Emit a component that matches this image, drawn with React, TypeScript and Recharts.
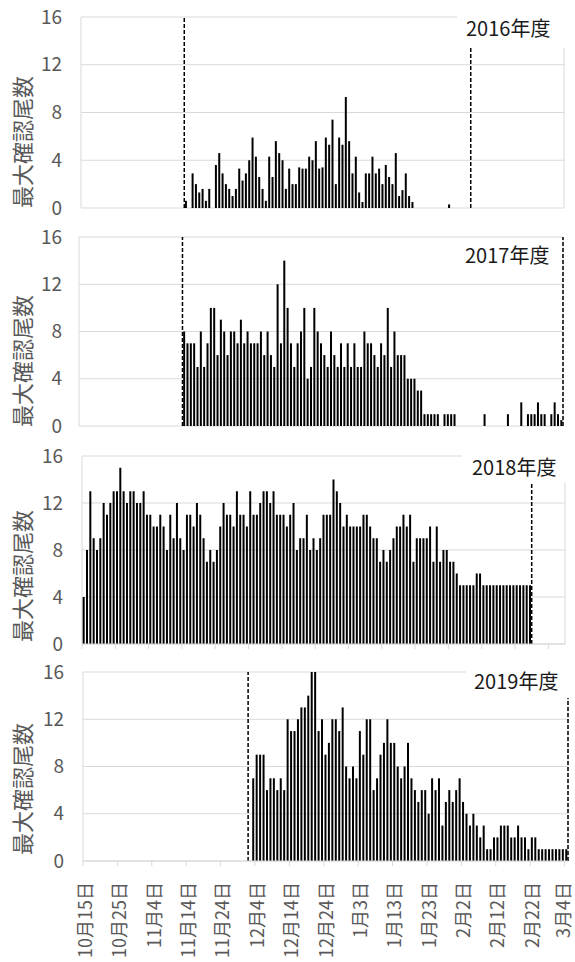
import React from "react";
import { BarChart, Bar, XAxis, YAxis, CartesianGrid, ReferenceLine } from "recharts";

const FONT = '"Noto Sans CJK JP", "Noto Sans", sans-serif';
const GRID = "#d9d9d9";
const AXIS_TEXT = "#595959";
const W = 575;

// x axis: one category per day, counted from 10月15日
const tickLabels = [
  "10月15日", "10月25日", "11月4日", "11月14日", "11月24日", "12月4日", "12月14日",
  "12月24日", "1月3日", "1月13日", "1月23日", "2月2日", "2月12日", "2月22日", "3月4日",
];
const yTicks = [0, 4, 8, 12, 16];

// daily maximum counts, each list starts at its season's first survey day
const start2016 = 31;
const counts2016 = [
  0.6, 0, 2.9, 2.0, 1.3, 1.6, 0.6, 1.6, 0, 3.6,
  4.6, 2.9, 2.0, 1.6, 1.0, 1.6, 3.3, 2.3, 2.9, 4.0,
  5.9, 4.3, 2.6, 1.6, 0.6, 4.3, 2.6, 5.6, 4.6, 4.0,
  1.6, 3.3, 2.0, 2.0, 3.4, 3.3, 3.3, 4.3, 4.0, 5.6,
  3.3, 3.4, 5.9, 5.3, 7.4, 2.0, 5.9, 5.3, 9.3, 5.6,
  2.9, 4.3, 1.3, 0.5, 2.9, 2.9, 4.3, 2.9, 3.3, 2.0,
  3.6, 2.6, 2.0, 4.6, 1.0, 1.5, 2.9, 1.0, 0.5, 0,
  0, 0, 0, 0, 0, 0, 0, 0, 0, 0.3,
];

const start2017 = 31;
const counts2017 = [
  8, 7, 7, 7, 5, 8, 5, 7, 10, 10,
  6, 9, 8, 6, 8, 8, 7, 9, 7, 8,
  7, 7, 7, 8, 6, 8, 6, 5, 12, 7,
  14, 10, 7, 5, 7, 8, 10, 4, 5, 10,
  8, 7, 6, 5, 8, 6, 5, 7, 5, 7,
  5, 7, 5, 5, 8, 7, 7, 6, 5, 7,
  6, 10, 5, 8, 6, 6, 6, 4, 4, 4,
  3, 3, 1, 1, 1, 1, 1, 0, 1, 1,
  1, 1, 0, 0, 0, 0, 0, 0, 0, 0,
  1, 0, 0, 0, 0, 0, 0, 1, 0, 0,
  0, 2, 0, 1, 1, 1, 2, 1, 1, 0,
  1, 2, 1, 0.5,
];

const start2018 = 0;
const counts2018 = [
  4, 8, 13, 9, 8, 9, 12, 11, 12, 13,
  13, 15, 13, 12, 13, 13, 12, 12, 13, 11,
  11, 10, 10, 11, 10, 8, 11, 9, 12, 9,
  8, 11, 11, 10, 12, 11, 9, 7, 8, 7,
  8, 10, 12, 11, 11, 10, 13, 11, 11, 10,
  13, 11, 11, 12, 13, 13, 12, 13, 11, 11,
  11, 10, 11, 12, 8, 9, 9, 11, 8, 9,
  8, 9, 11, 11, 11, 14, 13, 12, 10, 11,
  10, 10, 10, 10, 11, 11, 10, 9, 9, 7,
  8, 7, 8, 9, 10, 10, 11, 10, 11, 7,
  9, 9, 9, 9, 10, 7, 10, 7, 8, 8,
  7, 7, 6, 5, 5, 5, 5, 5, 6, 6,
  5, 5, 5, 5, 5, 5, 5, 5, 5, 5,
  5, 5, 5, 5, 5,
];

const start2019 = 49;
const counts2019 = [
  7, 9, 9, 9, 6, 7, 7, 6, 7, 6,
  12, 11, 11, 12, 13, 13, 14, 16, 16, 11,
  12, 9, 10, 12, 12, 11, 13, 8, 7, 8,
  7, 11, 9, 12, 12, 6, 7, 9, 10, 12,
  10, 10, 8, 7, 8, 10, 7, 6, 5, 6,
  6, 4, 7, 6, 7, 3, 5, 6, 5, 6,
  7, 5, 4, 3, 4, 3, 2, 3, 1, 1,
  2, 2, 3, 3, 3, 2, 2, 3, 2, 2,
  1, 2, 2, 1, 1, 1, 1, 1, 1, 1,
  1, 1,
];

// survey period: first day and the day the period closes on
const period2016 = [31, 117];
const period2017 = [31, 144];
const period2018 = [0, 135];
const period2019 = [48, 140];

function buildRows(days: number, start: number, counts: number[]) {
  return Array.from({ length: days }, (_, day) => ({ day, v: counts[day - start] ?? 0 }));
}

function DayTick(props: any) {
  const { x, y, payload, half, showLabel } = props;
  const edge = x - half;
  // keep the last label inside the page
  const lx = Math.min(x - 1, W - 13);
  const ly = y + 21;
  return (
    <g>
      <line x1={edge} x2={edge} y1={y} y2={y + 5} stroke={GRID} />
      {showLabel && (
        <text
          x={lx}
          y={ly}
          transform={`rotate(-90 ${lx} ${ly})`}
          textAnchor="end"
          dominantBaseline="central"
          fontSize={18}
          fontFamily={FONT}
          fill={AXIS_TEXT}
        >
          {tickLabels[payload.value / 10]}
        </text>
      )}
    </g>
  );
}

type PanelProps = {
  top: number;
  height: number;
  days: number;
  start: number;
  counts: number[];
  period: number[];
  endPos: "start" | "end";
  yAxisWidth: number;
  tickMargin: number;
  marginTop: number;
  marginRight: number;
  marginBottom: number;
  xAxisHeight: number;
  showLabels: boolean;
};

function Panel(p: PanelProps) {
  const rows = buildRows(p.days, p.start, p.counts);
  const plotRight = W - p.marginRight;
  const half = (plotRight - p.yAxisWidth) / p.days / 2;
  return (
    <div style={{ position: "absolute", left: 0, top: p.top }}>
      <BarChart
        width={W}
        height={p.height}
        data={rows}
        margin={{ top: p.marginTop, right: p.marginRight, bottom: p.marginBottom, left: 0 }}
        barCategoryGap="20%"
      >
        <CartesianGrid stroke={GRID} verticalPoints={[p.yAxisWidth, plotRight]} />
        <XAxis
          dataKey="day"
          type="category"
          hide={p.xAxisHeight === 0}
          height={p.xAxisHeight}
          interval={9}
          tickLine={false}
          tickSize={0}
          tickMargin={0}
          axisLine={{ stroke: GRID }}
          tick={<DayTick half={half} showLabel={p.showLabels} />}
        />
        <YAxis
          type="number"
          domain={[0, 16]}
          ticks={yTicks}
          interval={0}
          width={p.yAxisWidth}
          axisLine={false}
          tickLine={false}
          tickSize={0}
          tickMargin={p.tickMargin}
          tick={{ fill: AXIS_TEXT, fontSize: 19, fontFamily: FONT }}
        />
        <Bar dataKey="v" fill="#000" isAnimationActive={false} />
        <ReferenceLine x={p.period[0]} position="start" stroke="#000" strokeWidth={1.5} strokeDasharray="4 2" />
        <ReferenceLine x={p.period[1]} position={p.endPos} stroke="#000" strokeWidth={1.5} strokeDasharray="4 2" />
      </BarChart>
    </div>
  );
}

function YTitle({ cy }: { cy: number }) {
  return (
    <div
      style={{
        position: "absolute",
        left: 21,
        top: cy,
        transform: "translate(-50%, -50%) rotate(-90deg)",
        fontSize: 22,
        lineHeight: "24px",
        color: AXIS_TEXT,
        whiteSpace: "nowrap",
      }}
    >
      最大確認尾数
    </div>
  );
}

function SeasonTitle({ text, left, top, width, height, textLeft }: any) {
  return (
    <div style={{ position: "absolute", left, top, width, height, background: "#fff" }}>
      <div
        style={{
          position: "absolute",
          left: textLeft - left,
          top: 0,
          height,
          lineHeight: `${height}px`,
          fontSize: 20,
          color: "#1a1a1a",
          whiteSpace: "nowrap",
        }}
      >
        {text}
      </div>
    </div>
  );
}

export default function App() {
  return (
    <div
      style={{
        position: "absolute",
        left: 0,
        top: 0,
        width: W,
        height: 962,
        background: "#fff",
        fontFamily: FONT,
        overflow: "hidden",
      }}
    >
      <Panel top={0} height={225} days={145} start={start2016} counts={counts2016} period={period2016} endPos="start"
        yAxisWidth={81} tickMargin={19} marginTop={17} marginRight={11} marginBottom={17} xAxisHeight={0} showLabels={false} />
      <Panel top={220} height={222} days={145} start={start2017} counts={counts2017} period={period2017} endPos="end"
        yAxisWidth={79} tickMargin={17} marginTop={17} marginRight={12} marginBottom={16} xAxisHeight={0} showLabels={false} />
      <Panel top={440} height={222} days={145} start={start2018} counts={counts2018} period={period2018} endPos="start"
        yAxisWidth={82} tickMargin={19} marginTop={16} marginRight={10} marginBottom={10} xAxisHeight={8} showLabels={false} />
      <Panel top={655} height={307} days={141} start={start2019} counts={counts2019} period={period2019} endPos="end"
        yAxisWidth={83} tickMargin={19} marginTop={17} marginRight={7} marginBottom={0} xAxisHeight={101} showLabels={true} />

      <YTitle cy={142} />
      <YTitle cy={361} />
      <YTitle cy={576} />
      <YTitle cy={789} />

      <SeasonTitle text="2016年度" left={457} top={8} width={118} height={40} textLeft={466} />
      <SeasonTitle text="2017年度" left={460} top={241} width={100} height={28} textLeft={465} />
      <SeasonTitle text="2018年度" left={462} top={450} width={113} height={33} textLeft={472} />
      <SeasonTitle text="2019年度" left={466} top={664} width={109} height={34} textLeft={474} />
    </div>
  );
}
